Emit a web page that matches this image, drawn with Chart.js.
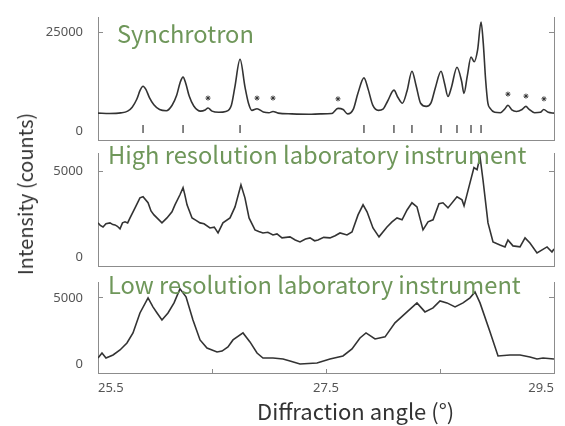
<!DOCTYPE html>
<html>
<head>
<meta charset="utf-8">
<script src="https://cdn.jsdelivr.net/npm/chart.js@4.4.1/dist/chart.umd.min.js"></script>
<style>
  body { margin: 0; background: #fff; width: 565px; height: 426px; position: relative; overflow: hidden; }
  canvas { position: absolute; left: 0; }
  .lbl { position: absolute; color: #6f975a; font-family: "Noto Sans CJK JP", "Noto Sans", sans-serif;
         font-size: 23.7px; line-height: 1; white-space: nowrap; z-index: 5; }
  .axt { position: absolute; color: #333; font-family: "Noto Sans CJK JP", "Noto Sans", sans-serif;
         font-size: 20px; line-height: 1; white-space: nowrap; z-index: 5; }
</style>
</head>
<body>
<canvas id="synch" width="565" height="150" style="top:0px"></canvas>
<canvas id="high" width="565" height="135" style="top:140px"></canvas>
<canvas id="low" width="565" height="156" style="top:270px"></canvas>

<div class="lbl" style="left:117px; top:22px">Synchrotron</div>
<div class="lbl" style="left:108px; top:143px">High resolution laboratory instrument</div>
<div class="lbl" style="left:108px; top:273px">Low resolution laboratory instrument</div>
<div class="axt" style="left:25px; top:194px; transform: translate(-50%, -50%) rotate(-90deg)">Intensity (counts)</div>
<div class="axt" style="left:257px; top:399px; font-size:22px">Diffraction angle (°)</div>

<script>
// x axis (diffraction angle, degrees)
const angleTicks = [25.5, 26.5, 27.5, 28.5, 29.5];
const angleLabels = ['25.5', '', '27.5', '', '29.5'];

// synchrotron pattern
const synchAngle = [25.50, 25.60, 25.70, 25.76, 25.80, 25.84, 25.87, 25.895, 25.92, 25.95, 25.99, 26.04,
  26.10, 26.15, 26.19, 26.22, 26.246, 26.27, 26.30, 26.34, 26.40, 26.44, 26.465, 26.50, 26.56, 26.62,
  26.67, 26.70, 26.746, 26.79, 26.82, 26.85, 26.895, 26.95, 27.00, 27.035, 27.08, 27.20, 27.35, 27.45,
  27.55, 27.605, 27.65, 27.69, 27.74, 27.78, 27.833, 27.87, 27.91, 27.96, 28.00, 28.04, 28.096, 28.13,
  28.17, 28.21, 28.254, 28.29, 28.33, 28.38, 28.42, 28.46, 28.509, 28.54, 28.57, 28.60, 28.649, 28.69,
  28.71, 28.74, 28.772, 28.80, 28.83, 28.86, 28.88, 28.90, 28.92, 28.94, 28.98, 29.03, 29.07, 29.096,
  29.13, 29.17, 29.22, 29.254, 29.28, 29.33, 29.38, 29.41, 29.45, 29.50];
const synchCounts = [4500, 4400, 4550, 5000, 6000, 8000, 10300, 11300, 10500, 8500, 6600, 5400,
  5100, 6500, 9000, 12200, 13600, 12000, 8800, 6300, 5000, 5300, 5800, 5000, 4700, 4900,
  6500, 11000, 18100, 11000, 7000, 5200, 5600, 4800, 4600, 4900, 4500, 4300, 4200, 4300,
  4400, 5700, 5400, 4300, 5500, 9500, 13400, 10500, 6500, 5200, 5500, 7500, 10300, 8500,
  7000, 10000, 15100, 11500, 7000, 6200, 7000, 11000, 15100, 12000, 8700, 11000, 16100, 12500,
  9500, 14000, 18700, 17500, 20500, 27500, 22000, 13000, 7000, 5700, 4700, 4600, 5600, 6500,
  5300, 4900, 5400, 6200, 5500, 4600, 4700, 5400, 4700, 4500];
// reflection markers and impurity asterisks
const braggAngle = [25.895, 26.246, 26.746, 27.833, 28.096, 28.254, 28.509, 28.649, 28.772, 28.860];
const braggLevel = [500, 500, 500, 500, 500, 500, 500, 500, 500, 500];
const impurityAngle = [26.465, 26.895, 27.035, 27.605, 29.096, 29.254, 29.412];
const impurityCounts = [8300, 8300, 8300, 8100, 9300, 8800, 8100];
const synchTicks = [0, 25000];

// high resolution laboratory instrument
const highAngle = [25.500, 25.520, 25.544, 25.570, 25.605, 25.630, 25.649, 25.670, 25.693, 25.715,
  25.737, 25.760, 25.781, 25.825, 25.868, 25.895, 25.939, 25.965, 25.991, 26.061, 26.105, 26.149,
  26.175, 26.219, 26.246, 26.260, 26.281, 26.325, 26.360, 26.395, 26.430, 26.482, 26.520, 26.553,
  26.596, 26.658, 26.702, 26.754, 26.789, 26.825, 26.877, 26.910, 26.947, 26.990, 27.035, 27.070,
  27.114, 27.184, 27.230, 27.272, 27.320, 27.360, 27.400, 27.430, 27.480, 27.535, 27.580, 27.623,
  27.684, 27.728, 27.781, 27.825, 27.860, 27.912, 27.965, 28.035, 28.079, 28.123, 28.167, 28.211,
  28.254, 28.298, 28.351, 28.395, 28.439, 28.491, 28.526, 28.570, 28.649, 28.693, 28.711, 28.763,
  28.798, 28.825, 28.851, 28.877, 28.921, 28.965, 29.026, 29.070, 29.096, 29.140, 29.202, 29.246,
  29.289, 29.351, 29.439, 29.482, 29.500];
const highCounts = [2000, 1850, 1760, 1950, 2000, 1900, 1880, 1800, 1650, 2000,
  2060, 2000, 2290, 2880, 3470, 3530, 3180, 2700, 2470, 2000, 2290, 2650,
  3060, 3650, 4060, 3700, 3060, 2290, 2150, 2000, 1950, 1700, 1750, 1410,
  2000, 2290, 2940, 4230, 3470, 2290, 1590, 1500, 1410, 1450, 1290, 1350,
  1120, 1180, 1000, 880, 1050, 1120, 950, 1000, 1150, 1120, 1250, 1410,
  1290, 1470, 2470, 3060, 2650, 1700, 1180, 1760, 2060, 2290, 2180, 2760,
  3180, 2940, 1590, 2060, 2180, 3120, 3180, 2880, 3530, 3350, 3000, 4350,
  5240, 5120, 5880, 4530, 2000, 880, 700, 590, 1000, 650, 590, 1120,
  820, 240, 590, 290, 470];
const highTicks = [0, 5000];

// low resolution laboratory instrument
const lowAngle = [25.500, 25.535, 25.570, 25.632, 25.693, 25.754, 25.807, 25.868, 25.939, 25.982,
  26.018, 26.061, 26.114, 26.167, 26.219, 26.272, 26.333, 26.395, 26.456, 26.544, 26.588, 26.640,
  26.684, 26.772, 26.833, 26.895, 26.947, 27.035, 27.123, 27.184, 27.272, 27.421, 27.535, 27.649,
  27.728, 27.798, 27.851, 27.930, 28.018, 28.105, 28.211, 28.298, 28.368, 28.439, 28.500, 28.561,
  28.632, 28.702, 28.763, 28.807, 28.851, 28.939, 29.009, 29.114, 29.202, 29.289, 29.351, 29.404,
  29.500];
const lowCounts = [450, 830, 450, 680, 1060, 1590, 2350, 3860, 5000, 4320,
  3860, 3330, 3860, 4620, 5680, 5080, 3330, 1820, 1210, 910, 980, 1290,
  1820, 2350, 1670, 830, 450, 450, 380, 230, 0, 80, 380, 610,
  1140, 1970, 2350, 1890, 2050, 3110, 3940, 4620, 3940, 4240, 4770, 4620,
  4320, 4620, 5000, 5450, 4620, 2420, 610, 680, 680, 530, 380, 450,
  380];
const lowTicks = [0, 5000];

const axisGrey = '#8c8c8c';
const tickFont = { family: 'Noto Sans', size: 13 };

function pairs(xs, ys) {
  return xs.map((x, i) => ({ x: x, y: ys[i] }));
}

function yAxis(pos, min, max, tickVals, width, showLabels) {
  return {
    type: 'linear', position: pos, min: min, max: max,
    afterBuildTicks: s => { s.ticks = tickVals.map(v => ({ value: v })); },
    // fixed width, and no extra room asked for half-height labels
    afterFit: s => { s.width = width; s.paddingTop = 0; s.paddingBottom = 0; },
    border: { display: true, color: axisGrey, width: 1 },
    grid: {
      drawOnChartArea: false, drawTicks: true, tickLength: -5,
      color: c => (c.tick && c.tick.value === 0) ? 'rgba(0,0,0,0)' : axisGrey
    },
    ticks: { display: showLabels, padding: 20, color: '#555', font: tickFont, callback: v => String(v) }
  };
}

function xAxis(height, showLabels) {
  return {
    type: 'linear', min: 25.5, max: 29.5,
    afterBuildTicks: s => { s.ticks = angleTicks.map(v => ({ value: v })); },
    afterFit: s => { s.height = height; s.paddingLeft = 0; s.paddingRight = 0; },
    border: { display: true, color: axisGrey, width: 1 },
    grid: { display: showLabels, drawOnChartArea: false, drawTicks: true, tickLength: -4, color: axisGrey },
    ticks: {
      display: showLabels, autoSkip: false, maxRotation: 0, align: 'inner', padding: 11,
      color: '#555', font: tickFont,
      callback: (v, i) => angleLabels[i]
    }
  };
}

function lineSet(xs, ys, smooth) {
  return {
    type: 'line', data: pairs(xs, ys), borderColor: '#333', borderWidth: 1.6,
    pointRadius: 0, fill: false, tension: 0,
    cubicInterpolationMode: smooth ? 'monotone' : 'default'
  };
}

function makePanel(id, datasets, yMin, yMax, tickVals, xHeight, padTop, showX) {
  return new Chart(document.getElementById(id), {
    type: 'line',
    data: { datasets: datasets },
    options: {
      responsive: false,
      animation: false,
      layout: { padding: { top: padTop, left: 0, right: 0, bottom: 0 } },
      plugins: { legend: { display: false }, tooltip: { enabled: false } },
      scales: {
        x: xAxis(xHeight, showX),
        y: yAxis('left', yMin, yMax, tickVals, 98, true),
        yr: yAxis('right', yMin, yMax, tickVals, 11, false)
      }
    }
  });
}

makePanel('synch', [
  lineSet(synchAngle, synchCounts, true),
  {
    type: 'scatter', data: pairs(braggAngle, braggLevel), pointStyle: 'line', rotation: 90,
    pointRadius: 4, borderColor: '#333', borderWidth: 1.2, backgroundColor: '#333'
  },
  {
    type: 'scatter', data: pairs(impurityAngle, impurityCounts), pointStyle: 'star',
    pointRadius: 2.5, borderColor: '#333', borderWidth: 1, backgroundColor: '#333'
  }
], -2300, 28800, synchTicks, 10, 17, false);

makePanel('high', [lineSet(highAngle, highCounts, false)], -530, 6100, highTicks, 9, 13, false);

makePanel('low', [lineSet(lowAngle, lowCounts, false)], -680, 6200, lowTicks, 53, 12, true);
</script>
</body>
</html>
